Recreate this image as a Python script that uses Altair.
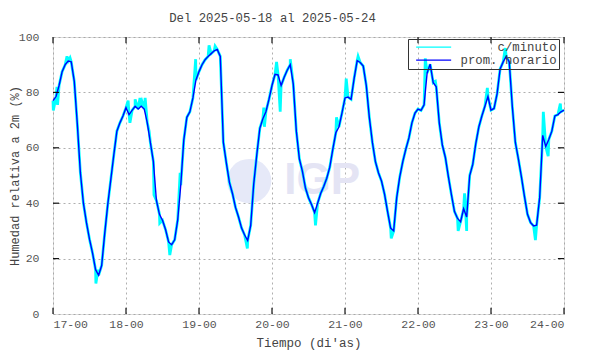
import altair as alt
import pandas as pd

FONT = "Liberation Mono"
NB = "\u00a0"
ZW = "\u200b"

# ---- axis tick labels / ticks ----
day_labels = ["17-00", "18-00", "19-00", "20-00", "21-00", "22-00", "23-00", "24-00"]
day_hours = [0, 24, 48, 72, 96, 120, 144, 168]
y_ticks = [0, 20, 40, 60, 80, 100]
y_inner_ticks = [20, 40, 60, 80]
# legend names (the first one is padded so both labels end at the right edge, as in the original)
series_names = [ZW + NB * 5 + "c/minuto", "prom. horario"]

# ---- hourly averages (prom. horario), one list per day ----
d17 = [77, 78.5, 82.5, 87.5, 90, 91.3, 91, 84, 68.5, 51, 40, 33, 27, 22, 16, 14, 17.5, 29, 39.5, 48.5, 57.5, 66, 69, 71.5]
d18 = [74.5, 72, 73.5, 75, 74, 75, 74, 69, 62, 55, 41, 36, 33.8, 30.5, 26, 25, 26.8, 34, 46.5, 62.8, 71, 73, 78, 84.5]
d19 = [87.5, 90, 91.8, 93, 94, 95, 95.5, 93, 62, 54.5, 47.5, 43.5, 38.5, 35, 31, 28.5, 26.5, 32, 47, 57.5, 67, 70.5, 73, 77.5]
d20 = [82.5, 86.5, 86.3, 82.5, 85.5, 88, 90, 83, 66, 56, 51.5, 45.5, 42, 39.5, 36.6, 40, 43.5, 46, 49, 53, 59.5, 65.5, 67.5, 72.5]
d21 = [78, 78.3, 77.5, 85, 91.5, 90.8, 89.5, 82.5, 71, 62, 55, 51, 48, 43.3, 37, 31, 30, 42, 49.5, 55, 59.5, 63.5, 69, 72.5]
d22 = [74, 73.5, 75.5, 87, 90.2, 83.5, 82, 69, 61, 56.5, 49.5, 43, 37, 34.5, 33.3, 38, 35, 50, 54, 61.5, 67.5, 71.5, 75, 78.5]
d23 = [73.6, 74.2, 79.5, 88.5, 91, 93, 91, 75, 62, 56, 49.5, 42.5, 36, 33, 31.8, 32.1, 42, 64.5, 60.5, 63, 66, 71.5, 72, 73]
d24_start = [73.6]

# ---- per-minute excursions visible around the hourly line (hours since 17-00, %) ----
spike_t = [0.1, 1.3, 1.5, 4.6, 5.6, 14.1, 14.8, 24.7, 25.3, 27.0, 28.6, 29.3, 30.3, 31.6,
           33.2, 35.1, 38.4, 41.8, 46.9, 51.3, 53.3, 63.9, 69.3, 69.5, 73.5, 74.7, 78.0,
           86.3, 93.2, 96.4, 100.3, 111.2, 122.4, 125.7, 133.2, 135.3, 136.0, 142.8,
           148.7, 158.6, 161.2, 162.8, 166.8]
spike_v = [73.5, 82, 75.5, 93, 92.5, 11, 16, 77, 69, 77.5, 78, 76.5, 78, 66,
           43, 32.8, 21.3, 51, 92, 97, 96.7, 23.7, 74.5, 67.6, 91, 73, 92,
           32, 71, 85, 93, 27.3, 92.3, 84, 30, 43.6, 30, 81.6,
           96, 26.7, 73, 57, 76]

hourly = d17 + d18 + d19 + d20 + d21 + d22 + d23 + d24_start
t_hourly = list(range(len(hourly)))

pts = sorted(list(zip(t_hourly, hourly)) + list(zip(spike_t, spike_v)))
min_df = pd.DataFrame({"t": [p[0] for p in pts], "v": [p[1] for p in pts],
                       "serie": series_names[0], "w": "min"})
hour_df = pd.DataFrame({"t": t_hourly, "v": hourly, "serie": series_names[1], "w": "hour"})
lines_df = pd.concat([min_df, hour_df], ignore_index=True)

x_scale = alt.Scale(domain=[0, 168], nice=False, zero=False)
y_scale = alt.Scale(domain=[0, 100], nice=False)

label_expr = "[" + ",".join(f"'{l}'" for l in day_labels) + "][round(datum.value/24)]"

x_axis = alt.Axis(values=day_hours, labelExpr=label_expr, title="Tiempo (di'as)",
                  grid=True, gridDash=[2, 3], gridColor="#9a9a9a", gridWidth=0.8,
                  ticks=False, domain=False,
                  labelFont=FONT, labelFontSize=11.5, labelColor="#555", labelPadding=4,
                  titleFont=FONT, titleFontSize=12.5, titleColor="#444", titleFontWeight="normal",
                  titlePadding=7)
y_axis = alt.Axis(values=y_ticks, title="Humedad relativa a 2m (%)",
                  grid=True, gridDash=[2, 3], gridColor="#9a9a9a", gridWidth=0.8,
                  ticks=False, domain=False,
                  labelFont=FONT, labelFontSize=11.5, labelColor="#555", labelPadding=14,
                  titleFont=FONT, titleFontSize=12, titleColor="#444", titleFontWeight="normal",
                  titlePadding=-3)

color_scale = alt.Scale(domain=series_names, range=["#00ffff", "#0000ff"])
legend = alt.Legend(title=None, orient="none", legendX=355, legendY=2, direction="vertical",
                    symbolType="M-3.5,0H3.5", symbolSize=100, symbolStrokeWidth=1.4, symbolOffset=17.5,
                    symbolFillColor="transparent",
                    labelFont=FONT, labelFontSize=12.3, labelColor="#444", labelOffset=20.8,
                    padding=2, strokeColor="#333", rowPadding=0)

# faint watermark
logo = alt.Chart(pd.DataFrame({"t": [64.5], "v": [48]})).mark_point(
    shape="circle", filled=True, color="#e6e9f8", opacity=1, size=1960
).encode(x=alt.X("t:Q", scale=x_scale), y=alt.Y("v:Q", scale=y_scale))
logo_txt = alt.Chart(pd.DataFrame({"t": [88.5], "v": [48], "s": ["IGP"]})).mark_text(
    font="Liberation Sans", fontWeight="bold", fontSize=44, color="#e4e4f4"
).encode(x=alt.X("t:Q", scale=x_scale), y=alt.Y("v:Q", scale=y_scale), text="s:N")

lines = alt.Chart(lines_df).mark_line().encode(
    x=alt.X("t:Q", scale=x_scale, axis=x_axis),
    y=alt.Y("v:Q", scale=y_scale, axis=y_axis),
    color=alt.Color("serie:N", scale=color_scale, legend=legend),
    strokeWidth=alt.StrokeWidth("w:N", scale=alt.Scale(domain=["min", "hour"], range=[2.8, 1.4]),
                                legend=None),
)

# inward ticks (gnuplot style)
xt = pd.DataFrame({"t": day_hours})
yt = pd.DataFrame({"v": y_inner_ticks})
tick_col = "#111"
bt = alt.Chart(xt).mark_rule(color=tick_col, strokeWidth=1.2).encode(
    x=alt.X("t:Q", scale=x_scale), y=alt.datum(0), y2=alt.datum(2.3))
tt = alt.Chart(xt).mark_rule(color=tick_col, strokeWidth=1.2).encode(
    x=alt.X("t:Q", scale=x_scale), y=alt.datum(100), y2=alt.datum(97.7))
lt = alt.Chart(yt).mark_rule(color=tick_col, strokeWidth=1.2).encode(
    y=alt.Y("v:Q", scale=y_scale), x=alt.datum(0), x2=alt.datum(2))
rt = alt.Chart(yt).mark_rule(color=tick_col, strokeWidth=1.2).encode(
    y=alt.Y("v:Q", scale=y_scale), x=alt.datum(168), x2=alt.datum(166))

chart = alt.layer(logo, logo_txt, lines, bt, tt, lt, rt).properties(
    width=511, height=277,
    padding={"left": 0, "top": 3, "right": 0, "bottom": 4},
    title=alt.TitleParams("Del 2025-05-18 al 2025-05-24", font=FONT, fontSize=12.3,
                          fontWeight="normal", color="#444", anchor="middle", dx=-36, offset=7),
).configure_view(stroke="#111", strokeWidth=1.5).configure(background="white")

chart.save("out.html", embed_options={"renderer": "svg", "actions": False})
